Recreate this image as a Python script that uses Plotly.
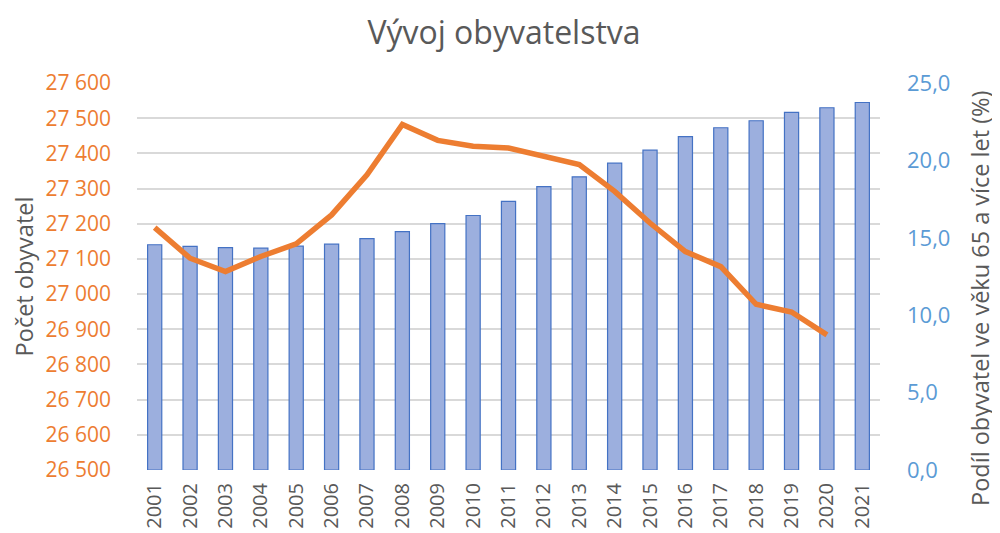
import plotly.graph_objects as go

years = [str(y) for y in range(2001, 2022)]
population = [27189, 27102, 27064, 27107, 27143, 27225, 27339, 27482, 27437, 27420,
              27415, 27390, 27368, 27292, 27202, 27121, 27078, 26971, 26949, 26884]
share_65 = [14.55, 14.44, 14.37, 14.33, 14.46, 14.59, 14.95, 15.40, 15.92, 16.44,
            17.35, 18.31, 18.94, 19.82, 20.66, 21.53, 22.11, 22.56, 23.10, 23.40, 23.74]

title_text = "Vývoj obyvatelstva"
left_title = "Počet obyvatel"
right_title = "Podíl obyvatel ve věku 65 a více let (%)"

FONT = "Open Sans"
GRAY = "#595959"
ORANGE = "#ED7D31"
BLUE = "#5B9BD5"

fig = go.Figure()
fig.add_trace(go.Bar(
    x=years, y=share_65, yaxis="y", width=0.4,
    marker=dict(color="#9cafde", line=dict(color="#4472C4", width=1.2)),
    name=right_title,
))
fig.add_trace(go.Scatter(
    x=years[:len(population)], y=population, yaxis="y2", mode="lines",
    line=dict(color=ORANGE, width=5.5),
    name=left_title,
))

fig.update_layout(
    width=992, height=525,
    margin=dict(l=129, r=120, t=75, b=63),
    paper_bgcolor="white", plot_bgcolor="white",
    separators=", ",
    showlegend=False,
    font=dict(family=FONT, color=GRAY),
    title=dict(text=title_text, x=0.5, xanchor="center", y=0.952, yanchor="middle",
               font=dict(size=32, color=GRAY, family=FONT)),
    xaxis=dict(
        type="category", tickangle=-90, tickfont=dict(size=20, color=GRAY),
        showgrid=False, showline=False, ticks="", automargin=False,
        ticklabelstandoff=8,
    ),
    yaxis=dict(
        side="right", range=[0, 25], tickvals=[0, 5, 10, 15, 20, 25], tickformat=".1f",
        showgrid=False, zeroline=False, showline=False, automargin=False,
        tickfont=dict(size=22, color=BLUE), ticklabelstandoff=26,
    ),
    yaxis2=dict(
        overlaying="y", side="left", range=[26500, 27600], dtick=100, tickformat=",d",
        showgrid=True, gridcolor="#d9d9d9", gridwidth=1.5, zeroline=False, showline=False,
        automargin=False,
        tickfont=dict(size=21, color=ORANGE), ticklabelstandoff=25,
        title=dict(text=left_title, font=dict(size=23.5, color=GRAY), standoff=12),
    ),
    annotations=[dict(
        text=right_title, textangle=-90, xref="paper", yref="paper",
        x=1.1346, y=0.442, xanchor="center", yanchor="middle", showarrow=False,
        font=dict(size=23.5, color=GRAY, family=FONT),
    )],
)

fig.write_html("out.html")
